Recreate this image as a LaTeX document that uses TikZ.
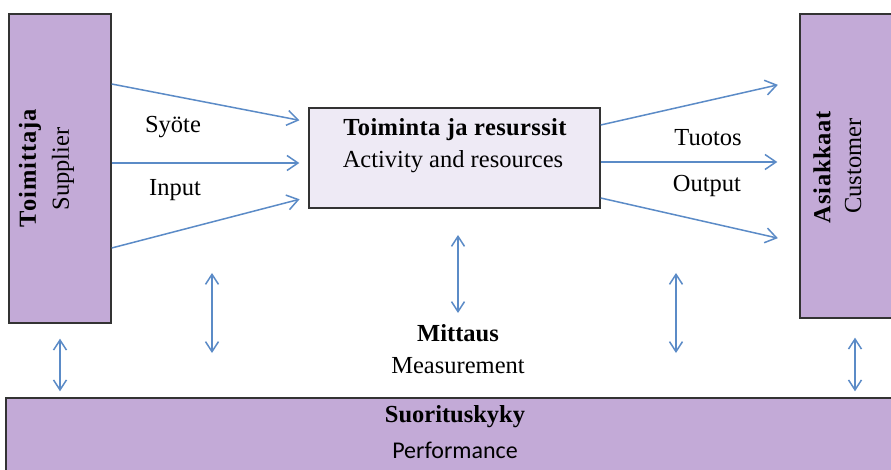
\documentclass[tikz,border=0pt]{standalone}
\usepackage{fontspec}
\setmainfont{Liberation Serif}
\newfontfamily\perfont{Carlito}
\usetikzlibrary{arrows.meta}
\definecolor{boxpurple}{HTML}{C3AAD7}
\definecolor{boxlight}{HTML}{EEEAF5}
\definecolor{flowblue}{HTML}{5B8BC7}
\definecolor{edgegray}{HTML}{333333}
\newcommand{\txtsize}{\fontsize{24.5}{29}\selectfont}
\tikzset{
  purplebox/.style={draw=edgegray, line width=1.4pt, fill=boxpurple, inner sep=0pt},
  lightbox/.style={draw=edgegray, line width=1.4pt, fill=boxlight, inner sep=0pt},
  txt/.style={inner sep=0pt, font=\txtsize},
  btxt/.style={inner sep=0pt, font=\txtsize\bfseries},
  flow/.style={draw=flowblue, line width=1.5pt, -{Straight Barb[length=11pt,width=15pt,line width=1.5pt]}},
  dflow/.style={draw=flowblue, line width=1.5pt, {Straight Barb[length=10pt,width=13pt,line width=1.5pt]}-{Straight Barb[length=10pt,width=13pt,line width=1.5pt]}},
}
\begin{document}
\begin{tikzpicture}[x=1pt,y=-1pt]
\useasboundingbox (0,0) rectangle (891,470);
\clip (0,0) rectangle (891,470);
\fill[white] (0,0) rectangle (891,470);

% main blocks
\node[purplebox, minimum width=102pt, minimum height=309pt] (sup) at (60,168.5) {};
\node[purplebox, minimum width=110pt, minimum height=304pt] (cus) at (855,166) {};
\node[lightbox, minimum width=291pt, minimum height=100pt] (act) at (454.5,158) {};
\node[purplebox, minimum width=900pt, minimum height=90pt] (perf) at (456,443) {};

% block texts
\node[btxt, rotate=90, font=\txtsize\bfseries\addfontfeature{LetterSpace=4}] (supfi) at (30,168) {Toimittaja};
\node[txt, rotate=90] (supen) at (63,169) {Supplier};
\node[btxt, rotate=90, font=\txtsize\bfseries\addfontfeature{LetterSpace=3}] (cusfi) at (822,167) {Asiakkaat};
\node[txt, rotate=90] (cusen) at (853,166) {Customer};
\node[btxt, font=\txtsize\bfseries\addfontfeature{LetterSpace=1.5}] (actfi) at (455,130) {Toiminta ja resurssit};
\node[txt] (acten) at (453,162) {Activity and resources};
\node[btxt] (perffi) at (455,417) {Suorituskyky};
\node[txt, font=\fontsize{24}{29}\perfont] (perfen) at (455,450) {Performance};

% measurement label
\node[btxt] (mfi) at (458,333) {Mittaus};
\node[txt] (men) at (458,366) {Measurement};

% flow labels
\node[txt] (inp1) at (173,127) {Syöte};
\node[txt] (inp2) at (175,190) {Input};
\node[txt] (out1) at (708,138) {Tuotos};
\node[txt] (out2) at (707,186) {Output};

% input flows
\draw[flow, shorten >=9pt] (sup.east |- 0,84) -- (act.west |- 0,122);
\draw[flow, shorten >=9pt] (sup.east |- 0,163) -- (act.west |- 0,163);
\draw[flow, shorten >=9pt] (sup.east |- 0,248) -- (act.west |- 0,197);

% output flows
\draw[flow, shorten >=22pt] (act.east |- 0,125) -- (cus.west |- 0,80);
\draw[flow, shorten >=22pt] (act.east |- 0,162) -- (cus.west |- 0,162);
\draw[flow, shorten >=22pt] (act.east |- 0,198) -- (cus.west |- 0,243);

% measurement links
\coordinate (mlt) at (212,273);
\coordinate (mlb) at (212,353);
\coordinate (mct) at (458,235);
\coordinate (mcb) at (458,313);
\coordinate (mrt) at (676,273);
\coordinate (mrb) at (676,353);
\draw[dflow] (mlt) -- (mlb);
\draw[dflow] (mct) -- (mcb);
\draw[dflow] (mrt) -- (mrb);

% links down to performance
\draw[dflow, shorten <=15pt, shorten >=6pt] (sup.south -| 60,0) -- (perf.north -| 60,0);
\draw[dflow, shorten <=19pt, shorten >=6pt] (cus.south -| 855,0) -- (perf.north -| 855,0);
\end{tikzpicture}
\end{document}
